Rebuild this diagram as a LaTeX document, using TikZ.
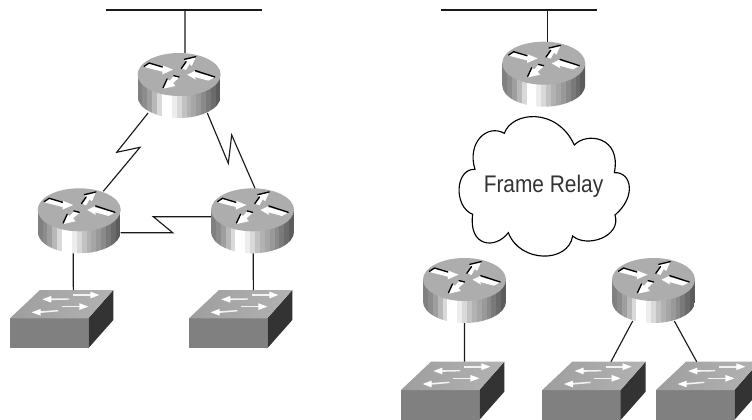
\documentclass[tikz,border=0pt]{standalone}
\usepackage{fontspec}
\setmainfont{Liberation Sans}
\newfontfamily\frfont[FakeStretch=0.87]{Liberation Sans}
\usetikzlibrary{calc}
\tikzset{
  wire/.style={draw=black!90,line width=.85pt},
  devbox/.style={inner sep=0pt,outer sep=0pt,minimum width=62.25pt,minimum height=48.75pt},
  swbox/.style={inner sep=0pt,outer sep=0pt,minimum width=77.5pt,minimum height=43.7pt,anchor=north west},
  wh/.style={fill=white},
  bk/.style={draw=black,line width=1pt,line cap=round},
  router/.pic={
    \begin{scope}
      \clip (-41.5,-11) -- (-41.5,11) .. controls (-41.5,22.9) and (-22.9,32.5) .. (0,32.5)
        .. controls (22.9,32.5) and (41.5,22.9) .. (41.5,11) -- (41.5,-11) -- cycle;
      \foreach \k [count=\i from 0] in {50,45,38,28,15,0,0,7,15,24,30,35,40,46,52,58,64}{
        \fill[black!\k] ({-41.5+\i*4.89},-12) rectangle ({-41.5+(\i+1)*4.9},33);
      }
    \end{scope}
    \fill[black!32] (0,-11) ellipse (41.5 and 21.5);
    \begin{scope}[shift={(0,-10.5)},scale=1/3]
      \fill[wh] (-105,-24) -- (-90,-35) -- (-50,-23) -- (-48,-28) -- (-18,-16) -- (-50,-2) -- (-50,-10) -- cycle;
      \draw[bk] (-105,-26) -- (-90,-36) -- (-50,-24);
      \fill[wh] (24,-1) -- (49,-13) -- (47,-9) -- (107,7) -- (88,17) -- (47,6) -- (50,14) -- cycle;
      \draw[bk] (49,-13) -- (107,6);
      \fill[wh] (8,-20) -- (22,-38) -- (16,-45) -- (50,-54) -- (38,-27) -- (31,-33) -- (21,-15) -- cycle;
      \draw[bk] (7,-20) -- (21,-40) (16,-47) -- (50,-55);
      \fill[wh] (0,8) -- (-16,3) -- (-28,17) -- (-35,13) -- (-47,41) -- (-11,33) -- (-18,24) -- cycle;
      \draw[bk] (-16,2) -- (0,6) (-36,12) -- (-48,38);
    \end{scope}
  },
  switchpic/.pic={
    \fill[black!50] (0,0) rectangle (78.3,30);
    \fill[black!80] (78.3,0) -- (103.3,-28.3) -- (103.3,1.7) -- (78.3,30) -- cycle;
    \shade[left color=black!38,right color=black!30] (0,0) -- (30,-28.3) -- (103.3,-28.3) -- (78.3,0) -- cycle;
    \foreach \ax/\ay/\bx/\by in {32.3/-19/59/-19.3,21.7/-6/48.3/-7.6}{
      \fill[black!5] (\ax+6,\ay-.9) -- (\bx,\by-.7) -- (\bx,\by+.7) -- (\ax+6,\ay+.9) -- cycle;
      \fill[white] (\ax,\ay) -- (\ax+9,\ay-3.4) -- (\ax+9,\ay+3.4) -- cycle;
    }
    \foreach \ax/\ay/\bx/\by in {63.3/-23.3/89.3/-23.3,51.7/-11.7/78.3/-11.7}{
      \fill[black!5] (\ax,\ay-.8) -- (\bx-6,\by-.8) -- (\bx-6,\by+.8) -- (\ax,\ay+.8) -- cycle;
      \fill[white] (\bx,\by) -- (\bx-9,\by-3.4) -- (\bx-9,\by+3.4) -- cycle;
    }
  }
}
\newcommand\routerat[3]{\node[devbox] (#1) at (#2,#3) {}; \pic at (#2,#3) {router};}
\newcommand\switchat[3]{\node[swbox] (#1) at ({#2},{#3-28.3}) {}; \pic at (#2,#3) {switchpic};}
\begin{document}
\begin{tikzpicture}[x=.75pt,y=-.75pt]
\useasboundingbox (0,0) rectangle (752,420);
\fill[white] (0,0) rectangle (752,420);
% left group
\routerat{r1}{179.1}{85.5}
\routerat{r2}{79.2}{220.8}
\routerat{r3}{252.5}{220.8}
\switchat{sw1}{10}{318.3}
\switchat{sw2}{189}{318.3}
% right group
\routerat{r4}{543.7}{74.2}
\routerat{r5}{464.5}{290.5}
\routerat{r6}{653.5}{290.5}
\switchat{sw3}{401}{390}
\switchat{sw4}{542.3}{390}
\switchat{sw5}{656}{390}
% buses
\coordinate (b1l) at (106,10);
\coordinate (b1r) at (262,10);
\coordinate (b1t) at (185,10);
\coordinate (b2l) at (441,10);
\coordinate (b2r) at (597,10);
\coordinate (b2t) at (547.3,10);
\draw[wire] (b1l) -- (b1r);
\draw[wire] (b2l) -- (b2r);
\draw[wire] (b1t) -- ($(r1.north)+(5.9,0)$);
\draw[wire] (b2t) -- ($(r4.north)+(3.6,0)$);
% serial links
\draw[wire] ($(r1.south)+(-31,-5)$) -- (116.7,152.3) -- (140,147.3) -- ($(r2.north)+(24.1,3)$);
\draw[wire] ($(r1.south)+(28.2,-5)$) -- (228.3,163.3) -- (231.7,135) -- ($(r3.north)+(2.5,0)$);
\draw[wire] ($(r2.east)+(0,11.9)$) -- (172.7,232.7) -- (153.3,216.7) -- ($(r3.west)+(0,-4.1)$);
% LAN links
\draw[wire] ($(r2.south)+(-5.9,0)$) -- ($(sw1.north)+(11.65,0)$);
\draw[wire] ($(r3.south)+(.8,0)$) -- ($(sw2.north)+(12.65,0)$);
\draw[wire] (r5.south) -- ($(sw3.north)+(11.85,0)$);
\draw[wire] ($(r6.south)+(-20.8,-2)$) -- ($(sw4.north)+(17,0)$);
\draw[wire] ($(r6.south)+(20.8,-2)$) -- ($(sw5.north)+(-11,0)$);
% cloud
\begin{scope}[shift={(440,100)},x=.25pt,y=-.25pt]
\draw[black,line width=.85pt,fill=white] (193,100) .. controls (215,35) and (350,20) .. (403,135)
  .. controls (440,95) and (545,110) .. (523,218)
  .. controls (575,215) and (590,290) .. (525,345)
  .. controls (545,410) and (440,445) .. (398,408)
  .. controls (385,490) and (240,490) .. (205,398)
  .. controls (165,450) and (85,440) .. (98,343)
  .. controls (40,320) and (45,205) .. (105,208)
  .. controls (80,130) and (140,70) .. (193,100) -- cycle;
\end{scope}
\node[inner sep=0pt,text=black!80,font=\frfont\fontsize{18}{21}\selectfont] (fr) at (543.5,186) {Frame Relay};
\end{tikzpicture}
\end{document}
